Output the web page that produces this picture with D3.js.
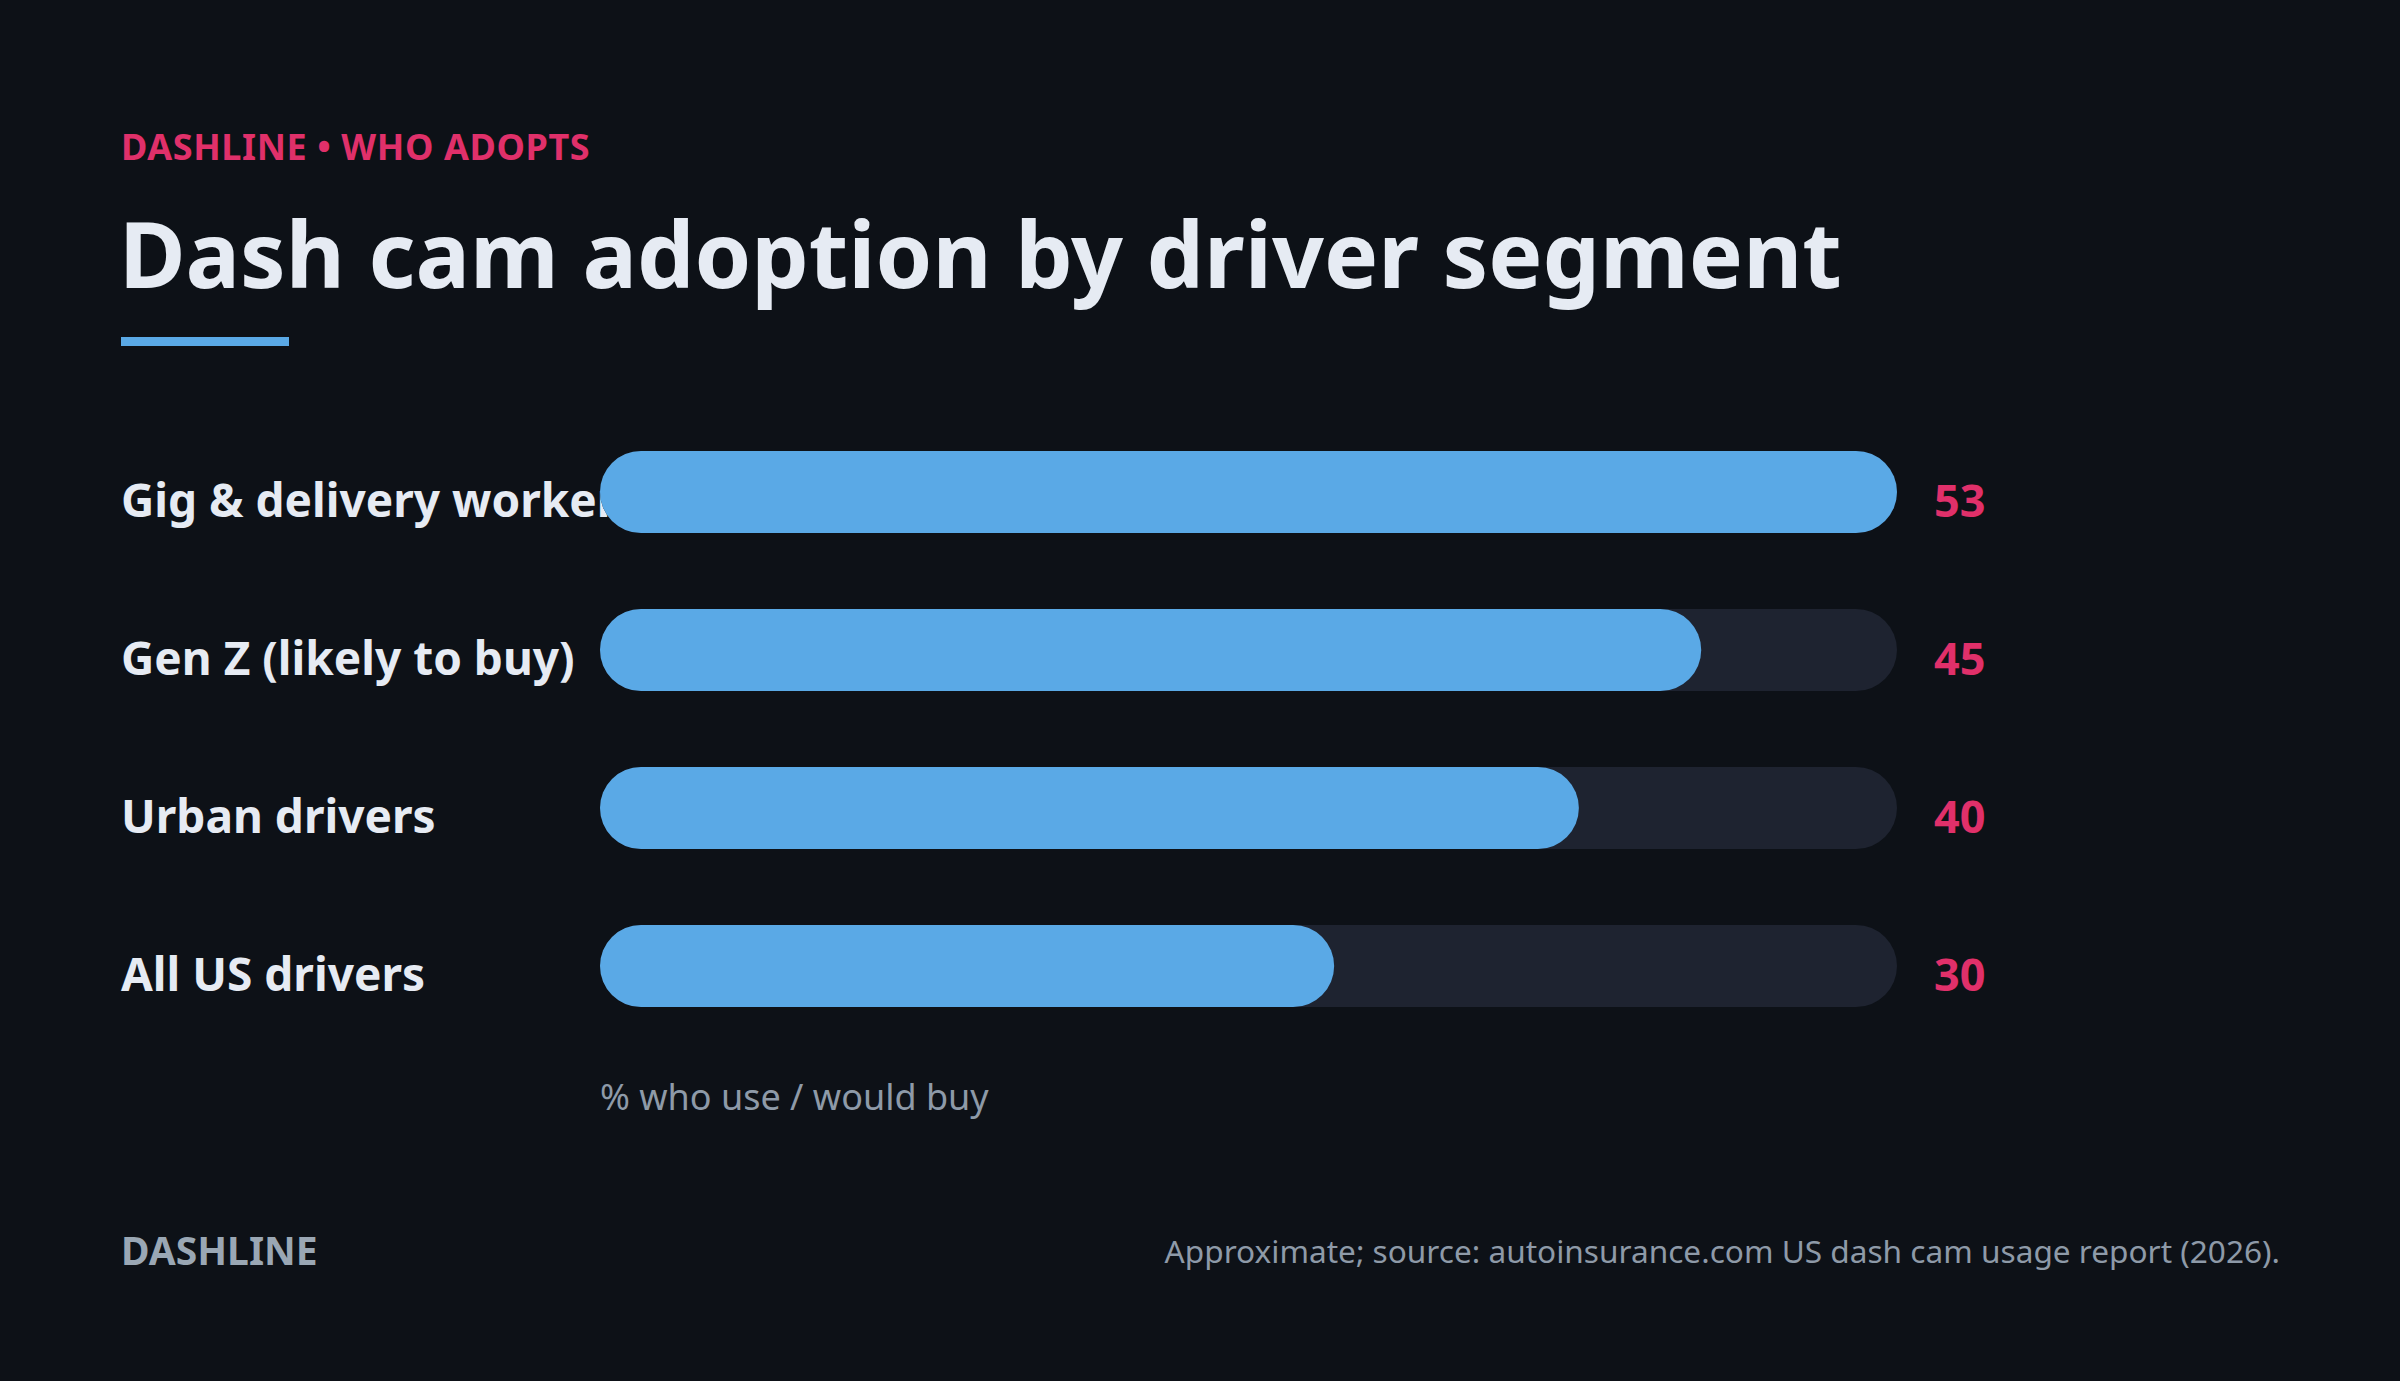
<!DOCTYPE html>
<html>
<head>
<meta charset="utf-8">
<script src="https://cdn.jsdelivr.net/npm/d3@7"></script>
<style>
  html, body { margin: 0; padding: 0; background: #0d1117; }
  svg { display: block; font-family: "Noto Sans", sans-serif; }
</style>
</head>
<body>
<div id="chart"></div>
<script>
// Data
const segments = ["Gig & delivery workers", "Gen Z (likely to buy)", "Urban drivers", "All US drivers"];
const values = [53, 45, 40, 30];

const kicker = "DASHLINE • WHO ADOPTS";
const title = "Dash cam adoption by driver segment";
const axisLabel = "% who use / would buy";
const brand = "DASHLINE";
const source = "Approximate; source: autoinsurance.com US dash cam usage report (2026).";

// Layout
const W = 2400, H = 1381;
const left = 121;
const barX0 = 600, barX1 = 1897;
const rowTop = 451, rowStep = 158, barH = 82;

const svg = d3.select("#chart")
    .append("svg")
    .attr("width", W)
    .attr("height", H);

svg.append("rect")
    .attr("width", W)
    .attr("height", H)
    .attr("fill", "#0d1117");

// Header
svg.append("text")
    .attr("x", left)
    .attr("y", 160)
    .attr("fill", "#e0306a")
    .attr("font-size", 36)
    .attr("font-weight", 700)
    .attr("letter-spacing", 0.6)
    .text(kicker);

svg.append("text")
    .attr("x", left - 2)
    .attr("y", 288)
    .attr("fill", "#e6ebf3")
    .attr("font-size", 91)
    .attr("font-weight", 700)
    .text(title);

svg.append("rect")
    .attr("x", left)
    .attr("y", 337)
    .attr("width", 168)
    .attr("height", 9)
    .attr("fill", "#5aa9e6");

// Scales
const x = d3.scaleLinear()
    .domain([0, d3.max(values)])
    .range([barX0, barX1]);

const y = d3.scaleBand()
    .domain(segments)
    .range([rowTop, rowTop + rowStep * (segments.length - 1) + barH])
    .paddingInner((rowStep - barH) / rowStep)
    .paddingOuter(0);

const rows = svg.append("g")
    .selectAll("g")
    .data(segments.map((s, i) => ({name: s, value: values[i]})))
    .join("g");

// Labels (drawn first so bars overlap long ones)
rows.append("text")
    .attr("x", left)
    .attr("y", d => y(d.name) + y.bandwidth() / 2 + 25)
    .attr("fill", "#e6ebf3")
    .attr("font-size", 46)
    .attr("font-weight", 700)
    .text(d => d.name);

// Tracks
rows.append("rect")
    .attr("x", x(0))
    .attr("y", d => y(d.name))
    .attr("width", x.range()[1] - x(0))
    .attr("height", y.bandwidth())
    .attr("rx", y.bandwidth() / 2)
    .attr("fill", "#1e2330");

// Bars
rows.append("rect")
    .attr("x", x(0))
    .attr("y", d => y(d.name))
    .attr("width", d => x(d.value) - x(0))
    .attr("height", y.bandwidth())
    .attr("rx", y.bandwidth() / 2)
    .attr("fill", "#5aa9e6");

// Values
rows.append("text")
    .attr("x", barX1 + 37)
    .attr("y", d => y(d.name) + y.bandwidth() / 2 + 25)
    .attr("fill", "#e0306a")
    .attr("font-size", 45)
    .attr("font-weight", 700)
    .text(d => d.value);

// Axis caption
svg.append("text")
    .attr("x", barX0)
    .attr("y", 1110)
    .attr("fill", "#8e9aa8")
    .attr("font-size", 36)
    .text(axisLabel);

// Footer
svg.append("text")
    .attr("x", left)
    .attr("y", 1265)
    .attr("fill", "#9aa7b4")
    .attr("font-size", 39)
    .attr("font-weight", 700)
    .text(brand);

svg.append("text")
    .attr("x", 2280)
    .attr("y", 1263)
    .attr("text-anchor", "end")
    .attr("fill", "#8e9aa8")
    .attr("font-size", 31.6)
    .text(source);
</script>
</body>
</html>
